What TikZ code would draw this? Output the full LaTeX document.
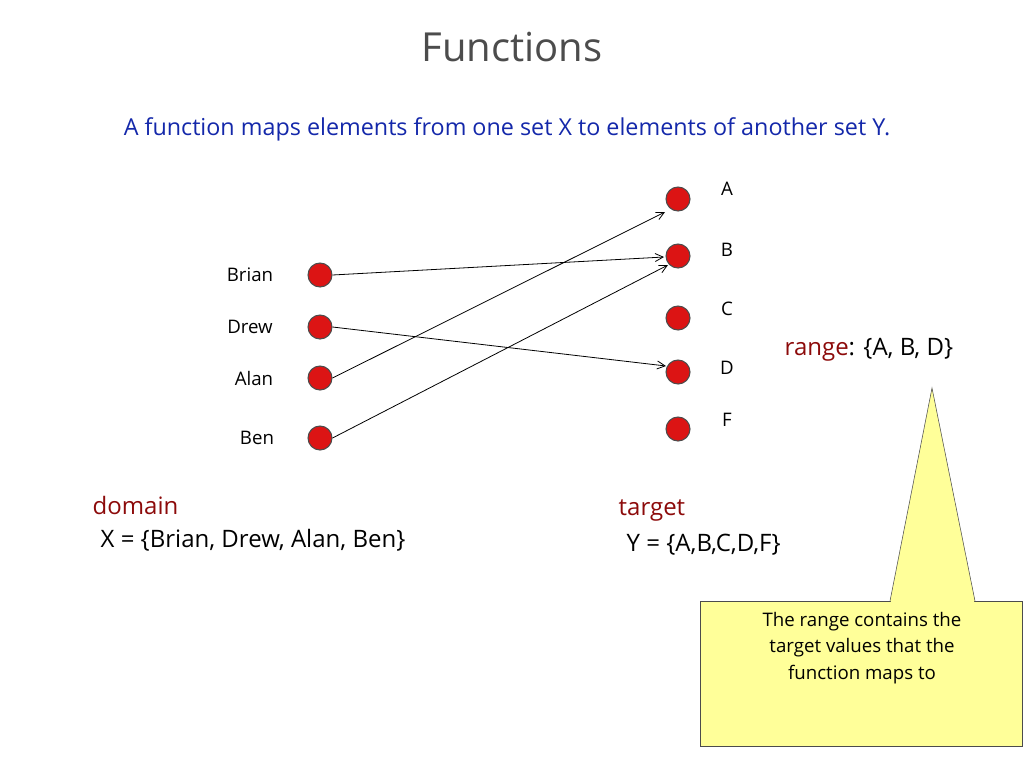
\documentclass[tikz,border=0pt]{standalone}
\usepackage{fontspec}
\setmainfont{Open Sans}
\usetikzlibrary{arrows.meta}
\definecolor{dotred}{RGB}{220,20,20}
\definecolor{dred}{RGB}{140,10,10}
\definecolor{tblue}{RGB}{20,40,170}
\definecolor{callout}{RGB}{255,255,153}
\begin{document}
\begin{tikzpicture}[x=0.75pt,y=-0.75pt,
  dot/.style={circle,fill=dotred,draw=black!70,line width=0.8pt,minimum size=18pt,inner sep=0},
  lbl/.style={font=\fontsize{14}{16}\selectfont},
  big/.style={font=\fontsize{18}{22}\selectfont},
  arr/.style={-{Straight Barb[length=6pt,width=6pt]},line width=0.6pt}]
\useasboundingbox (0,0) rectangle (1024,768);
\node (title) at (512,47) {\color{black!70}\fontsize{30}{34}\selectfont Functions};
\node[tblue,font=\fontsize{17.5}{21}\selectfont] (sub) at (507,129) {A function maps elements from one set X to elements of another set Y.};
\foreach \n/\y in {brian/275,drew/327,alan/378,ben/438} \node[dot] (\n) at (320,\y) {};
\foreach \n/\y in {A/199,B/256,C/318,D/372,F/429} \node[dot] (\n) at (678,\y) {};
\node[lbl] (lbrian) at (250,275) {Brian};
\node[lbl] (ldrew) at (250,327) {Drew};
\node[lbl] (lalan) at (254,378) {Alan};
\node[lbl] (lben) at (257,438) {Ben};
\foreach \n/\y in {A/189,B/250,C/309,D/368,F/420} \node[lbl] (l\n) at (727,\y) {\n};
\coordinate (tA) at (665,212);
\coordinate (tB1) at (664,257);
\coordinate (tB2) at (668,265);
\coordinate (tD) at (666,366);
\draw[arr] (brian.east) -- (tB1);
\draw[arr] (drew.east) -- (tD);
\draw[arr] (alan.east) -- (tA);
\draw[arr] (ben.east) -- (tB2);
\node[big,anchor=west] (range) at (780,350) {\textcolor{dred}{range}: \{A, B, D\}};
\node[big,anchor=west,dred] (dom) at (88,505) {domain};
\node[big,anchor=west] (X) at (96,540) {X = \{Brian, Drew, Alan, Ben\}};
\node[big,anchor=west,dred] (tgt) at (614,510) {target};
\node[big,anchor=west] (Y) at (622,545) {Y = \{A,B,C,D,F\}};
\draw[fill=callout,draw=black!70] (700,601) rectangle (1022,746);
\draw[fill=callout,draw=black!70] (890,601) -- (932,388) -- (975,601);
\fill[callout] (891,600) rectangle (974,603);
\node[align=center,font=\fontsize{14}{20}\selectfont] (note) at (862,648) {The range contains the\\target values that the\\function maps to};
\end{tikzpicture}
\end{document}
